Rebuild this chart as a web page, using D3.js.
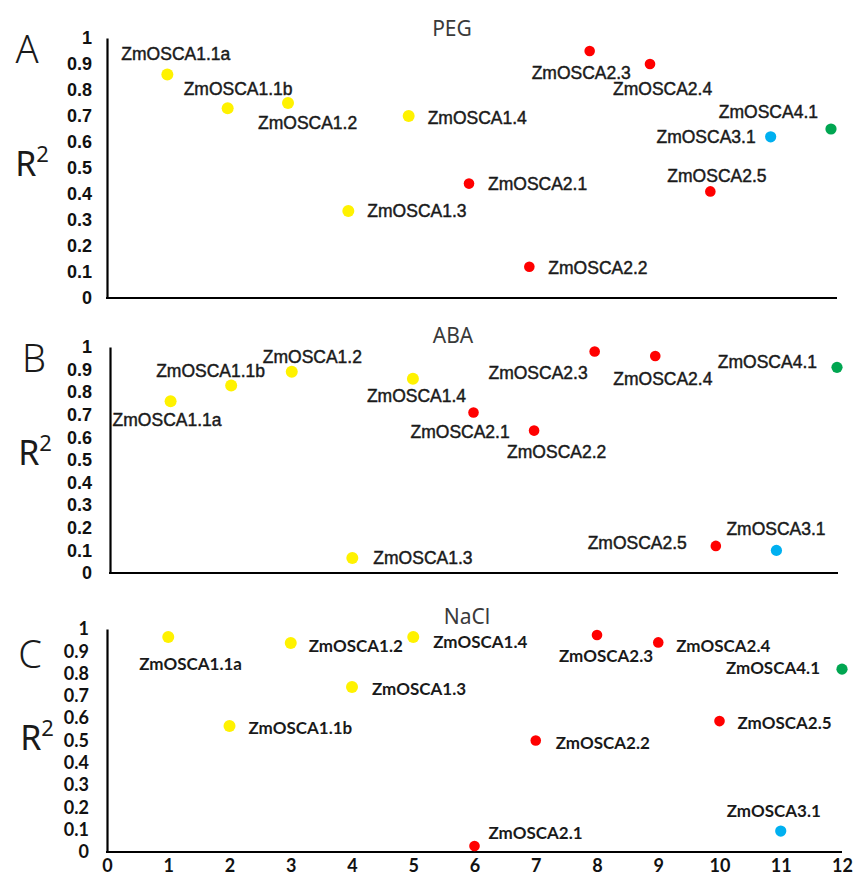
<!DOCTYPE html>
<html>
<head>
<meta charset="utf-8">
<script src="https://cdn.jsdelivr.net/npm/d3@7"></script>
<style>
  html, body { margin: 0; padding: 0; background: #fff; }
  svg { display: block; }
</style>
</head>
<body>
<svg id="chart" width="853" height="879"></svg>
<script>
// ---------------- DATA ----------------
const genes = ["ZmOSCA1.1a","ZmOSCA1.1b","ZmOSCA1.2","ZmOSCA1.3","ZmOSCA1.4",
               "ZmOSCA2.1","ZmOSCA2.2","ZmOSCA2.3","ZmOSCA2.4","ZmOSCA2.5",
               "ZmOSCA3.1","ZmOSCA4.1"];
const geneIndex = [1,2,3,4,5,6,7,8,9,10,11,12];
const geneGroup = ["1","1","1","1","1","2","2","2","2","2","3","4"];
const pegR2  = [0.86, 0.73, 0.75, 0.335, 0.70, 0.44, 0.12, 0.95, 0.90, 0.41, 0.62, 0.65];
const abaR2  = [0.76, 0.83, 0.89, 0.066, 0.86, 0.71, 0.63, 0.98, 0.96, 0.12, 0.10, 0.91];
const naclR2 = [0.964, 0.565, 0.937, 0.74, 0.964, 0.027, 0.50, 0.973, 0.94, 0.587, 0.094, 0.82];
const yTicks = [0, 0.1, 0.2, 0.3, 0.4, 0.5, 0.6, 0.7, 0.8, 0.9, 1];
const xTicks = [0,1,2,3,4,5,6,7,8,9,10,11,12];
const panelTitles = ["PEG", "ABA", "NaCl"];
const panelLetters = ["A", "B", "C"];

// ---------------- LAYOUT / STYLE ----------------
const groupColor = {"1": "#FFF200", "2": "#FF0000", "3": "#00B0F0", "4": "#00A651"};
const groupRadius = {"1": 6, "2": 5.3, "3": 5.6, "4": 5.6};

// label placement: [anchor, dx, dy] relative to each point
const labelsA = [["start",-46,-20],["start",-44,-19],["start",-30,20],["start",19,0],["start",19,2],
                 ["start",19,0],["start",19,1],["start",-58,22],["start",-37,25],["start",-43,-15],
                 ["end",-15,0],["end",-13,-17]];
const labelsB = [["start",-58,19],["start",-75,-14],["start",-29,-15],["start",21,0],["start",-46,17],
                 ["start",-63,19],["start",-27,21],["end",-7,21],["start",-42,23],["end",-29,-3],
                 ["start",-50,-21],["end",-20,-5]];
const labelsC = [["start",-29,26],["start",19,1],["start",18,2],["start",20,2],["start",20,4],
                 ["start",14,-13],["start",20,2],["start",-38,20],["start",18,3],["start",18,1],
                 ["start",-54,-21],["end",-22,-2]];

const panels = [
  {values: pegR2,  labels: labelsA, x0: 107, x1: 831, xEnd: 837, yTop: 38,  yBot: 298,
   title: [452, 28], letter: [27, 48], r2: [32, 163],
   tickFont: "'Liberation Sans', Arial, sans-serif", labelFont: "'Liberation Sans', Arial, sans-serif",
   labelWeight: "normal", labelStroke: 0.45, labelSize: 17.5, tickSize: 18, showX: false, tickRight: 92},
  {values: abaR2,  labels: labelsB, x0: 110, x1: 837, xEnd: 838, yTop: 347, yBot: 573,
   title: [453, 335], letter: [34, 357], r2: [35, 452],
   tickFont: "'Liberation Sans', Arial, sans-serif", labelFont: "'Liberation Sans', Arial, sans-serif",
   labelWeight: "normal", labelStroke: 0.45, labelSize: 17.5, tickSize: 18, showX: false, tickRight: 92},
  {values: naclR2, labels: labelsC, x0: 107, x1: 842, xEnd: 842, yTop: 629, yBot: 852,
   title: [467, 616], letter: [30, 653], r2: [37, 737],
   tickFont: "Lato, sans-serif", labelFont: "Lato, sans-serif",
   labelWeight: "bold", labelStroke: 0, labelSize: 17, tickSize: 18, showX: true, tickRight: 89}
];

const svg = d3.select("#chart");

panels.forEach((p, pi) => {
  const g = svg.append("g");
  const x = d3.scaleLinear().domain([0, 12]).range([p.x0, p.x1]);
  const y = d3.scaleLinear().domain([0, 1]).range([p.yBot, p.yTop]);

  // Y axis
  const yAxis = d3.axisLeft(y).tickValues(yTicks).tickSize(0)
    .tickPadding(p.x0 - p.tickRight).tickFormat(d3.format("~g"));
  const ya = g.append("g").attr("transform", `translate(${p.x0},0)`).call(yAxis);
  ya.select(".domain").attr("stroke", "#000").attr("stroke-width", 2.2);
  ya.selectAll("text").attr("font-family", p.tickFont).attr("font-weight", "bold")
    .attr("font-size", p.tickSize).attr("fill", "#111");

  // X axis
  const xAxis = d3.axisBottom(x).tickValues(xTicks).tickSize(0).tickPadding(7)
    .tickFormat(p.showX ? d3.format("d") : () => "");
  const xa = g.append("g").attr("transform", `translate(0,${p.yBot})`).call(xAxis);
  xa.select(".domain").remove();
  xa.selectAll("text").attr("font-family", p.tickFont).attr("font-weight", "bold")
    .attr("font-size", p.tickSize).attr("fill", "#111");
  g.append("line").attr("x1", p.x0 - 1).attr("x2", p.xEnd).attr("y1", p.yBot).attr("y2", p.yBot)
    .attr("stroke", "#000").attr("stroke-width", 2.2);

  // Panel decorations
  g.append("text").attr("x", p.title[0]).attr("y", p.title[1]).attr("text-anchor", "middle")
    .attr("dominant-baseline", "central").attr("font-family", "'Noto Sans', sans-serif")
    .attr("font-size", 21).attr("fill", "#3a3a3a").text(panelTitles[pi]);
  g.append("text").attr("x", p.letter[0]).attr("y", p.letter[1]).attr("text-anchor", "middle")
    .attr("dominant-baseline", "central").attr("font-family", "'Noto Sans', sans-serif")
    .attr("font-size", 38).attr("font-weight", 300).attr("fill", "#1a1a1a").text(panelLetters[pi]);
  const r2t = g.append("text").attr("x", p.r2[0]).attr("y", p.r2[1]).attr("text-anchor", "middle")
    .attr("dominant-baseline", "central").attr("font-family", "'Noto Sans', sans-serif")
    .attr("font-size", 34).attr("fill", "#1a1a1a");
  r2t.append("tspan").text("R");
  r2t.append("tspan").attr("font-size", 22).attr("dy", -10).text("2");

  // Points
  const data = genes.map((name, i) => ({name, xi: geneIndex[i], v: p.values[i], grp: geneGroup[i], lab: p.labels[i]}));
  g.selectAll("circle.pt").data(data).enter().append("circle").attr("class", "pt")
    .attr("cx", d => x(d.xi)).attr("cy", d => y(d.v))
    .attr("r", d => groupRadius[d.grp]).attr("fill", d => groupColor[d.grp]);

  // Labels
  g.selectAll("text.lbl").data(data).enter().append("text").attr("class", "lbl")
    .attr("x", d => x(d.xi) + d.lab[1]).attr("y", d => y(d.v) + d.lab[2])
    .attr("text-anchor", d => d.lab[0]).attr("dominant-baseline", "central")
    .attr("font-family", p.labelFont).attr("font-weight", p.labelWeight)
    .attr("font-size", p.labelSize).attr("fill", "#1a1a1a")
    .attr("stroke", p.labelStroke ? "#1a1a1a" : "none").attr("stroke-width", p.labelStroke)
    .text(d => d.name);
});
</script>
</body>
</html>
